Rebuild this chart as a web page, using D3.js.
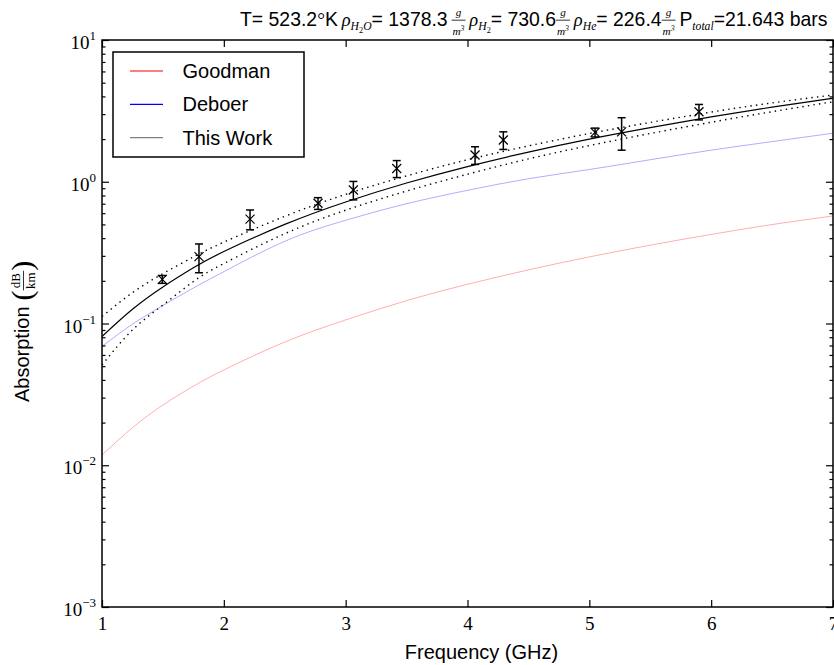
<!DOCTYPE html>
<html><head><meta charset="utf-8">
<script src="https://cdn.jsdelivr.net/npm/d3@7"></script>
<style>body{margin:0;background:#fff} text{white-space:pre}</style>
</head><body>
<svg id="chart" width="834" height="665"></svg>
<script>
// ---------- data ----------
const freqGrid      = [1, 1.25, 1.5, 1.75, 2, 2.5, 3, 3.5, 4, 4.5, 5, 5.5, 6, 6.5, 7];
const goodman       = [0.0118, 0.0184, 0.0266, 0.0361, 0.047, 0.074, 0.106, 0.145, 0.189, 0.239, 0.295, 0.357, 0.425, 0.499, 0.574];
const deboer        = [0.069, 0.099, 0.134, 0.178, 0.232, 0.38, 0.535, 0.70, 0.87, 1.05, 1.22, 1.43, 1.67, 1.92, 2.20];
const thisWork      = [0.081, 0.126, 0.181, 0.247, 0.322, 0.50, 0.72, 0.98, 1.28, 1.62, 2.0, 2.41, 2.87, 3.36, 3.88];
const thisWorkUpper = [0.112, 0.165, 0.225, 0.295, 0.375, 0.57, 0.815, 1.10, 1.43, 1.79, 2.19, 2.62, 3.10, 3.60, 4.09];
const thisWorkLower = [0.051, 0.090, 0.135, 0.198, 0.265, 0.43, 0.63, 0.86, 1.13, 1.45, 1.80, 2.19, 2.63, 3.12, 3.67];
const measFreq  = [1.495, 1.796, 2.215, 2.773, 3.063, 3.419, 4.062, 4.294, 5.047, 5.265, 5.9];
const measValue = [0.205, 0.296, 0.545, 0.705, 0.875, 1.24, 1.545, 1.97, 2.23, 2.25, 3.12];
const measErr   = [0.013, 0.068, 0.087, 0.067, 0.13, 0.17, 0.22, 0.28, 0.16, 0.58, 0.39];
const xTicks = [1, 2, 3, 4, 5, 6, 7];
const yTickExps = [-3, -2, -1, 0, 1];
const legendLabels = ["Goodman", "Deboer", "This Work"];
const legendColors = ["#ff0000", "#0000ff", "#808080"];

// ---------- setup ----------
const SANS = "'Liberation Sans', Arial, sans-serif";
const SERIF = "'Liberation Serif', 'DejaVu Serif', serif";
const W = 834, H = 665;
const m = {left: 102, right: 833, top: 40, bottom: 607};
const svg = d3.select("#chart");
svg.append("rect").attr("width", W).attr("height", H).attr("fill", "#fff");

const x = d3.scaleLinear().domain([1, 7]).range([m.left, m.right]);
const y = d3.scaleLog().domain([1e-3, 1e1]).range([m.bottom, m.top]);

svg.append("defs").append("clipPath").attr("id", "clip").append("rect")
  .attr("x", m.left).attr("y", m.top).attr("width", m.right - m.left).attr("height", m.bottom - m.top);
const plot = svg.append("g").attr("clip-path", "url(#clip)");

const line = d3.line().x(d => x(d[0])).y(d => y(d[1])).curve(d3.curveNatural);
const pairs = vals => freqGrid.map((f, i) => [f, vals[i]]);

plot.append("path").attr("d", line(pairs(goodman))).attr("fill", "none")
  .attr("stroke", "#ff0000").attr("stroke-opacity", 0.32).attr("stroke-width", 1);
plot.append("path").attr("d", line(pairs(deboer))).attr("fill", "none")
  .attr("stroke", "#0000ff").attr("stroke-opacity", 0.32).attr("stroke-width", 1);
plot.append("path").attr("d", line(pairs(thisWorkUpper))).attr("fill", "none")
  .attr("stroke", "#000").attr("stroke-width", 1.4).attr("stroke-dasharray", "1.4,4.2");
plot.append("path").attr("d", line(pairs(thisWorkLower))).attr("fill", "none")
  .attr("stroke", "#000").attr("stroke-width", 1.4).attr("stroke-dasharray", "1.4,4.2");
plot.append("path").attr("d", line(pairs(thisWork))).attr("fill", "none")
  .attr("stroke", "#000").attr("stroke-width", 1.2);

// measurements with error bars
const meas = measFreq.map((f, i) => ({f, v: measValue[i], e: measErr[i]}));
const pts = plot.selectAll("g.pt").data(meas).join("g").attr("class", "pt");
pts.append("line").attr("x1", d => x(d.f)).attr("x2", d => x(d.f))
  .attr("y1", d => y(d.v + d.e)).attr("y2", d => y(d.v - d.e)).attr("stroke", "#000").attr("stroke-width", 1.5);
[d => d.v + d.e, d => d.v - d.e].forEach(acc => {
  pts.append("line").attr("x1", d => x(d.f) - 4).attr("x2", d => x(d.f) + 4)
    .attr("y1", d => y(acc(d))).attr("y2", d => y(acc(d))).attr("stroke", "#000").attr("stroke-width", 1.5);
});
[[-1, -1, 1, 1], [-1, 1, 1, -1]].forEach(s => {
  pts.append("line")
    .attr("x1", d => x(d.f) + s[0] * 4.5).attr("y1", d => y(d.v) + s[1] * 4.5)
    .attr("x2", d => x(d.f) + s[2] * 4.5).attr("y2", d => y(d.v) + s[3] * 4.5)
    .attr("stroke", "#000").attr("stroke-width", 1.2);
});

// ---------- axes ----------
const yMajor = yTickExps.map(e => Math.pow(10, e));
const yMinor = [];
yTickExps.slice(0, -1).forEach(e => { for (let k = 2; k <= 9; k++) yMinor.push(k * Math.pow(10, e)); });

function styleAxis(g) {
  g.select(".domain").remove();
  g.selectAll(".tick line").attr("stroke", "#000").attr("stroke-width", 1.2);
}
const gL = svg.append("g").attr("transform", `translate(${m.left},0)`)
  .call(d3.axisLeft(y).tickValues(yMajor).tickSizeInner(-7).tickSizeOuter(0).tickPadding(6).tickFormat(() => "10"))
  .attr("font-family", SERIF).attr("font-size", 19).call(styleAxis);
gL.selectAll(".tick text").attr("fill", "#000").attr("dy", "0.45em").each(function(d) {
  const e = Math.round(Math.log10(d));
  d3.select(this).append("tspan").attr("dy", -9).attr("font-size", 13).text(e < 0 ? "\u2212" + (-e) : String(e));
});
svg.append("g").attr("transform", `translate(${m.left},0)`)
  .call(d3.axisLeft(y).tickValues(yMinor).tickSizeInner(-3.5).tickSizeOuter(0).tickFormat(() => ""))
  .call(styleAxis);
svg.append("g").attr("transform", `translate(${m.right},0)`)
  .call(d3.axisRight(y).tickValues(yMajor).tickSizeInner(-7).tickSizeOuter(0).tickFormat(() => ""))
  .call(styleAxis);
svg.append("g").attr("transform", `translate(${m.right},0)`)
  .call(d3.axisRight(y).tickValues(yMinor).tickSizeInner(-3.5).tickSizeOuter(0).tickFormat(() => ""))
  .call(styleAxis);
const gB = svg.append("g").attr("transform", `translate(0,${m.bottom})`)
  .call(d3.axisBottom(x).tickValues(xTicks).tickSizeInner(-7).tickSizeOuter(0).tickPadding(10).tickFormat(d3.format("d")))
  .attr("font-family", SERIF).attr("font-size", 19).call(styleAxis);
gB.selectAll(".tick text").attr("fill", "#000");
svg.append("g").attr("transform", `translate(0,${m.top})`)
  .call(d3.axisTop(x).tickValues(xTicks).tickSizeInner(-7).tickSizeOuter(0).tickFormat(() => ""))
  .call(styleAxis);

svg.append("rect").attr("x", m.left).attr("y", m.top).attr("width", m.right - m.left).attr("height", m.bottom - m.top)
  .attr("fill", "none").attr("stroke", "#000").attr("stroke-width", 1.5);

// ---------- rich text helper ----------
function richText(parent, items, k = 1) {
  const g = parent.append("g");
  let cx = 0;
  items.forEach(it => {
    if (it.space) { cx += it.space * k; return; }
    if (it.frac) {
      const s = it.size * k;
      const fg = g.append("g");
      const num = fg.append("text").attr("font-family", SERIF).attr("font-style", it.style || "italic")
        .attr("font-size", s).attr("text-anchor", "middle").text(it.num);
      const den = fg.append("text").attr("font-family", SERIF).attr("font-style", it.style || "italic")
        .attr("font-size", s).attr("text-anchor", "middle").text(it.den);
      if (it.denSup) den.append("tspan").attr("font-size", s * 0.7).attr("dy", -s * 0.35).text(it.denSup);
      const w = Math.max(num.node().getComputedTextLength(), den.node().getComputedTextLength()) + 2 * (it.pad || 1) * k;
      num.attr("x", cx + w / 2).attr("y", it.numY * k);
      den.attr("x", cx + w / 2).attr("y", it.denY * k);
      fg.append("line").attr("x1", cx).attr("x2", cx + w).attr("y1", it.barY * k).attr("y2", it.barY * k)
        .attr("stroke", "#000").attr("stroke-width", it.barW || 0.8);
      cx += w;
      return;
    }
    const t = g.append("text").attr("x", cx).attr("y", (it.dy || 0) * k)
      .attr("font-family", it.font || SANS).attr("font-size", (it.size || 20) * k)
      .attr("font-style", it.style || "normal").attr("fill", "#000").text(it.t);
    cx += t.node().getComputedTextLength();
  });
  return {g, width: cx};
}

// ---------- title ----------
const fracGM = {frac: true, num: "g", den: "m", denSup: "3", size: 11.5, numY: -10, denY: 9, barY: -6, pad: 1};
const titleItems = [
  {t: "T= 523.2"}, {t: "\u00b0", font: SERIF}, {t: "K"}, {space: 4},
  {t: "\u03c1", font: SERIF, style: "italic", size: 19},
  {t: "H", font: SERIF, style: "italic", size: 12, dy: 4}, {t: "2", font: SERIF, size: 8.5, dy: 7},
  {t: "O", font: SERIF, style: "italic", size: 12, dy: 4},
  {t: "= 1378.3"}, {space: 4}, fracGM, {space: 4},
  {t: "\u03c1", font: SERIF, style: "italic", size: 19},
  {t: "H", font: SERIF, style: "italic", size: 12, dy: 4}, {t: "2", font: SERIF, size: 8.5, dy: 7},
  {t: "= 730.6"}, fracGM, {space: 4},
  {t: "\u03c1", font: SERIF, style: "italic", size: 19},
  {t: "He", font: SERIF, style: "italic", size: 12, dy: 4},
  {t: "= 226.4"}, fracGM, {space: 4},
  {t: "P"}, {t: "total", font: SERIF, style: "italic", size: 12, dy: 4}, {t: "=21.643 bars"}
];
const titleLeft = 240, titleRight = 828;
const probe = richText(svg, titleItems);
const kTitle = (titleRight - titleLeft) / probe.width;
probe.g.remove();
const title = richText(svg, titleItems, kTitle);
title.g.attr("transform", `translate(${titleLeft},26)`);

// ---------- axis titles ----------
svg.append("text").attr("x", 481.5).attr("y", 659).attr("text-anchor", "middle")
  .attr("font-family", SANS).attr("font-size", 20).attr("fill", "#000").text("Frequency (GHz)");

const ylab = richText(svg, [
  {t: "Absorption"}, {space: 6},
  {t: "(", font: SERIF, size: 30, dy: 3},
  {frac: true, num: "dB", den: "km", style: "normal", size: 13, numY: -9, denY: 6, barY: -5.5, pad: 1.5},
  {t: ")", font: SERIF, size: 30, dy: 3}
]);
ylab.g.attr("transform", `translate(29,${402}) rotate(-90)`);

// ---------- legend ----------
const lg = svg.append("g");
lg.append("rect").attr("x", 113).attr("y", 52).attr("width", 191).attr("height", 105)
  .attr("fill", "#fff").attr("stroke", "#000").attr("stroke-width", 1.5);
const legendY = d3.scalePoint().domain(legendLabels).range([71, 137.7]);
legendLabels.forEach((lab, i) => {
  lg.append("line").attr("x1", 130).attr("x2", 163).attr("y1", legendY(lab)).attr("y2", legendY(lab))
    .attr("stroke", legendColors[i]).attr("stroke-width", 1.2);
  lg.append("text").attr("x", 182.5).attr("y", legendY(lab) + 6.8).attr("font-family", SANS)
    .attr("font-size", 20).attr("fill", "#000").text(lab);
});
</script>
</body></html>
